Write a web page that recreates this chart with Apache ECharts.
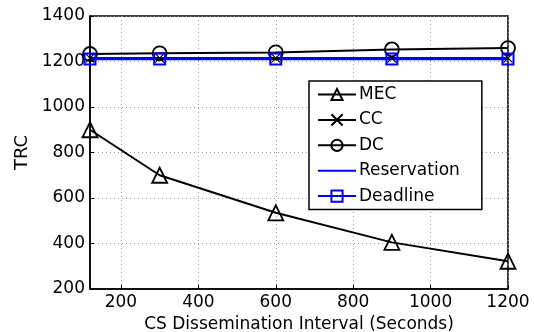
<!DOCTYPE html>
<html>
<head>
<meta charset="utf-8">
<script src="https://cdn.jsdelivr.net/npm/echarts@6/dist/echarts.min.js"></script>
<style>
  html, body { margin: 0; padding: 0; background: #fff; }
  #chart { width: 534px; height: 332px; }
</style>
</head>
<body>
<div id="chart"></div>
<script>
// data
var intervals = [120, 300, 600, 900, 1200];
var mec = [900, 700, 535, 405, 322];
var cc = [1215, 1215, 1215, 1215, 1215];
var dc = [1233, 1236, 1240, 1253, 1259];
var reservation = [1213, 1213, 1213, 1213, 1213];
var deadline = [1211, 1211, 1211, 1211, 1211];
var legendNames = ['MEC', 'CC', 'DC', 'Reservation', 'Deadline'];

function pairs(ys) {
  return intervals.map(function (x, i) { return [x, ys[i]]; });
}

var font = 'DejaVu Sans';
var hollow = 'rgba(0,0,0,0)';

var legendData = legendNames.map(function (n) {
  // Reservation has no marker, only the line
  if (n === 'Reservation') {
    return { name: n, itemStyle: { color: hollow, borderWidth: 0, opacity: 0 } };
  }
  return { name: n };
});

var chart = echarts.init(document.getElementById('chart'));
var option = {
  animation: false,
  grid: {
    left: 90, right: 26, top: 16, bottom: 43,
    outerBoundsMode: 'none',
    show: true, borderColor: '#000', borderWidth: 1.5
  },
  legend: {
    data: legendData,
    orient: 'vertical',
    left: 309, top: 81,
    padding: [5, 22, 5, 8],
    itemWidth: 38, itemHeight: 14, itemGap: 8.4,
    borderColor: '#000', borderWidth: 1.5,
    backgroundColor: '#fff',
    textStyle: { fontFamily: font, fontSize: 17, color: '#000', padding: [0, 0, 0, -2] }
  },
  xAxis: {
    type: 'value',
    min: 120, max: 1200,
    splitNumber: 5,
    name: 'CS Dissemination Interval (Seconds)',
    nameLocation: 'middle',
    nameGap: 20,
    nameTextStyle: { fontFamily: font, fontSize: 17, color: '#000' },
    axisLine: { show: true, lineStyle: { color: '#000', width: 1.5 } },
    axisTick: { show: true, inside: true, length: 4, lineStyle: { color: '#000' } },
    axisLabel: {
      fontFamily: font, fontSize: 17, color: '#000', margin: 5,
      showMinLabel: false,
      formatter: function (v) { return v % 200 === 0 ? String(v) : ''; }
    },
    splitLine: { show: true, lineStyle: { color: '#999', type: [1, 3], width: 1 } }
  },
  yAxis: {
    type: 'value',
    min: 200, max: 1400, interval: 200,
    name: 'TRC',
    nameLocation: 'middle',
    nameGap: 58,
    nameTextStyle: { fontFamily: font, fontSize: 18, color: '#000' },
    axisLine: { show: true, lineStyle: { color: '#000', width: 1.5 } },
    axisTick: { show: true, inside: true, length: 4, lineStyle: { color: '#000' } },
    axisLabel: {
      fontFamily: font, fontSize: 17, color: '#000', margin: 5,
      formatter: function (v) { return String(v); }
    },
    splitLine: { show: true, lineStyle: { color: '#999', type: [1, 3], width: 1 } }
  },
  series: [
    {
      name: 'MEC', type: 'line', data: pairs(mec),
      symbol: 'triangle', symbolSize: 15,
      lineStyle: { color: '#000', width: 2 },
      itemStyle: { color: hollow, borderColor: '#000', borderWidth: 1.8 }
    },
    {
      name: 'CC', type: 'line', data: pairs(cc),
      symbol: 'path://M0,0L10,10M10,0L0,10', symbolSize: 9,
      lineStyle: { color: '#000', width: 2 },
      itemStyle: { color: hollow, borderColor: '#000', borderWidth: 1.2 }
    },
    {
      name: 'DC', type: 'line', data: pairs(dc),
      symbol: 'circle', symbolSize: 14,
      lineStyle: { color: '#000', width: 2 },
      itemStyle: { color: hollow, borderColor: '#000', borderWidth: 1.8 }
    },
    {
      name: 'Reservation', type: 'line', data: pairs(reservation),
      symbol: 'none',
      lineStyle: { color: '#0000ff', width: 2.5 },
      itemStyle: { color: '#0000ff' }
    },
    {
      name: 'Deadline', type: 'line', data: pairs(deadline),
      symbol: 'rect', symbolSize: 11,
      lineStyle: { color: '#0000ff', width: 2.5 },
      itemStyle: { color: hollow, borderColor: '#0000ff', borderWidth: 2 }
    }
  ]
};
chart.setOption(option);
</script>
</body>
</html>
